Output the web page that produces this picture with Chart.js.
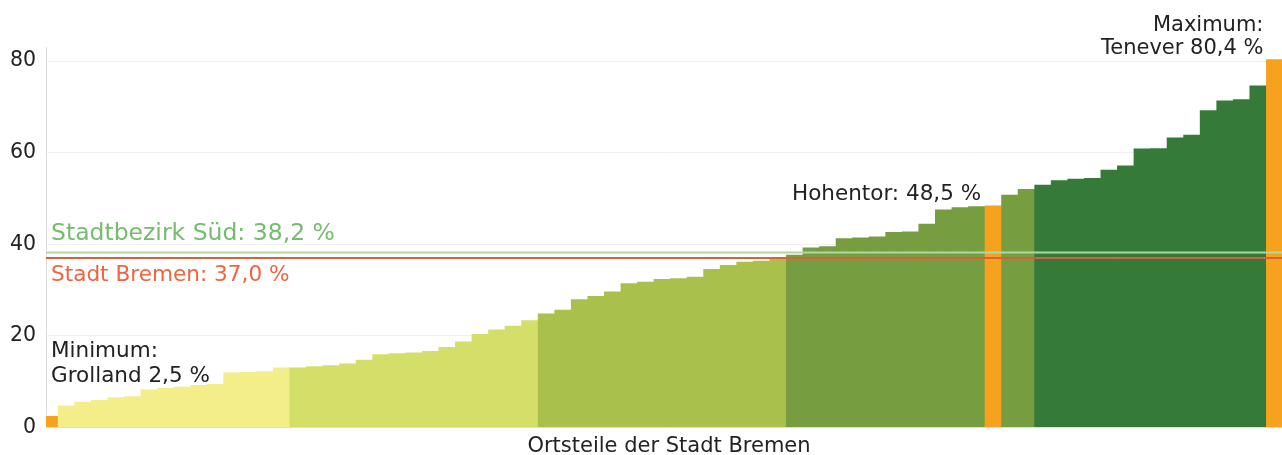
<!DOCTYPE html>
<html>
<head>
<meta charset="utf-8">
<script src="https://cdn.jsdelivr.net/npm/chart.js@4/dist/chart.umd.min.js"></script>
<style>
  html, body { margin: 0; padding: 0; background: #ffffff; }
  #wrap { width: 1282px; height: 455px; }
</style>
</head>
<body>
<div id="wrap"><canvas id="c" width="1282" height="455"></canvas></div>
<script>
// ---- data ----
const categories = [
  "Grolland","2","3","4","5","6","7","8","9","10","11","12","13","14","15",
  "16","17","18","19","20","21","22","23","24","25","26","27","28","29","30",
  "31","32","33","34","35","36","37","38","39","40","41","42","43","44","45",
  "46","47","48","49","50","51","52","53","54","55","56","57","Hohentor","59","60",
  "61","62","63","64","65","66","67","68","69","70","71","72","73","74","Tenever"
];
const values = [
  2.5, 4.8, 5.6, 6.0, 6.6, 6.8, 8.3, 8.6, 8.9, 9.3, 9.5, 12.0, 12.1, 12.3, 13.1,
  13.1, 13.4, 13.6, 14.0, 14.8, 16.0, 16.2, 16.4, 16.7, 17.6, 18.8, 20.4, 21.4, 22.2, 23.4,
  24.9, 25.7, 28.0, 28.7, 29.7, 31.5, 31.8, 32.4, 32.6, 32.9, 34.6, 35.5, 36.2, 36.4, 37.2,
  37.7, 39.3, 39.6, 41.3, 41.5, 41.7, 42.7, 42.8, 44.5, 47.6, 48.1, 48.3, 48.5, 50.8, 52.1,
  53.0, 54.0, 54.3, 54.5, 56.3, 57.2, 60.9, 61.0, 63.3, 63.9, 69.3, 71.4, 71.7, 74.7, 80.4
];
const highlighted = ["Grolland", "Hohentor", "Tenever"];
const yTicks = [0, 20, 40, 60, 80];
const refLines = [
  { label: "Stadtbezirk Süd: 38,2 %", value: 38.2 },
  { label: "Stadt Bremen: 37,0 %", value: 37.0 }
];
const annotations = {
  min: ["Minimum:", "Grolland 2,5 %"],
  hohentor: ["Hohentor: 48,5 %"],
  max: ["Maximum:", "Tenever 80,4 %"]
};
const xTitle = "Ortsteile der Stadt Bremen";

// ---- styles ----
const FONT = "'DejaVu Sans', Verdana, sans-serif";
const groupColors = ["#f3ee89", "#d4df6a", "#a9c04c", "#769d3f", "#367a3a"];
const highlightColor = "#f6a21e";
const perGroup = Math.ceil(values.length / groupColors.length);
const barColors = values.map((v, i) =>
  highlighted.includes(categories[i]) ? highlightColor : groupColors[Math.floor(i / perGroup)]);

const points = values.map((v, i) => ({ x: i, y: v }));

const overlay = {
  id: 'overlay',
  afterDatasetsDraw(chart) {
    const ctx = chart.ctx;
    const ca = chart.chartArea;
    const xs = chart.scales.x, ys = chart.scales.y;
    ctx.save();
    // reference lines
    const ySued = ys.getPixelForValue(refLines[0].value);
    const yBremen = ys.getPixelForValue(refLines[1].value);
    ctx.lineWidth = 2;
    ctx.strokeStyle = "#acd9a0";
    ctx.beginPath(); ctx.moveTo(ca.left, ySued); ctx.lineTo(ca.right, ySued); ctx.stroke();
    ctx.strokeStyle = "#d9603b";
    ctx.beginPath(); ctx.moveTo(ca.left, yBremen); ctx.lineTo(ca.right, yBremen); ctx.stroke();

    ctx.textBaseline = "alphabetic";
    ctx.textAlign = "left";
    ctx.font = "23.5px " + FONT;
    ctx.fillStyle = "#74bd6c";
    ctx.fillText(refLines[0].label, ca.left + 5, ySued - 13);
    ctx.font = "21.6px " + FONT;
    ctx.fillStyle = "#f0643f";
    ctx.fillText(refLines[1].label, ca.left + 5, yBremen + 23);

    // annotations
    ctx.font = "21.5px " + FONT;
    ctx.fillStyle = "#222222";
    const iMin = categories.indexOf("Grolland");
    const yMin = ys.getPixelForValue(values[iMin]);
    ctx.textAlign = "left";
    ctx.fillText(annotations.min[0], ca.left + 5, yMin - 59);
    ctx.fillText(annotations.min[1], ca.left + 5, yMin - 34);

    const iH = categories.indexOf("Hohentor");
    const xH = xs.getPixelForValue(iH - 0.5);
    const yH = ys.getPixelForValue(values[iH]);
    ctx.textAlign = "right";
    ctx.fillText(annotations.hohentor[0], xH - 4, yH - 5);

    const iM = categories.indexOf("Tenever");
    const xM = xs.getPixelForValue(iM - 0.5);
    const yM = ys.getPixelForValue(values[iM]);
    ctx.font = "21px " + FONT;
    ctx.fillText(annotations.max[0], xM - 3, yM - 28);
    ctx.fillText(annotations.max[1], xM - 3, yM - 5);

    // x axis title
    ctx.textAlign = "center";
    ctx.font = "21px " + FONT;
    ctx.fillStyle = "#222222";
    ctx.fillText(xTitle, (ca.left + ca.right) / 2 + 5, 452);
    ctx.restore();
  }
};

new Chart(document.getElementById('c'), {
  type: 'bar',
  data: {
    datasets: [{
      data: points,
      backgroundColor: barColors,
      borderWidth: 0,
      barPercentage: 1.05,
      categoryPercentage: 1.0
    }]
  },
  options: {
    responsive: false,
    animation: false,
    devicePixelRatio: 1,
    layout: { padding: { top: 47.4, right: 0, bottom: 0, left: 0 } },
    plugins: { legend: { display: false }, tooltip: { enabled: false }, title: { display: false } },
    scales: {
      x: {
        type: 'linear',
        min: -0.24,
        max: 74.44,
        offset: false,
        ticks: { display: false },
        grid: { display: false, drawTicks: false },
        border: { display: true, color: "#dddddd", width: 1 },
        afterFit(scale) { scale.height = 27.5; }
      },
      y: {
        min: 0,
        max: 83,
        afterBuildTicks(scale) { scale.ticks = yTicks.map(v => ({ value: v })); },
        ticks: {
          includeBounds: false,
          padding: 10,
          color: "#222222",
          font: { family: FONT, size: 20.5 }
        },
        grid: { color: "#f0f0f0", lineWidth: 1, drawTicks: false },
        border: { display: true, color: "#dddddd", width: 1 },
        afterFit(scale) { scale.width = 46; }
      }
    }
  },
  plugins: [overlay]
});
</script>
</body>
</html>
